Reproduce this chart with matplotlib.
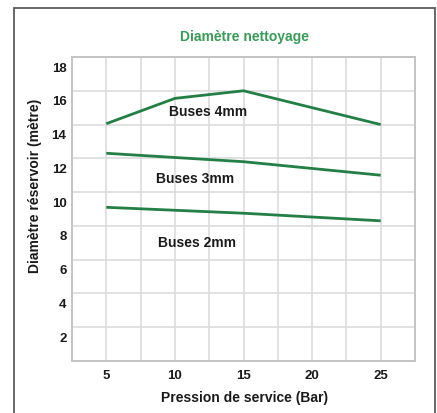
import matplotlib
matplotlib.use("Agg")
import matplotlib.pyplot as plt
import matplotlib.transforms as mtransforms
from matplotlib.patches import Rectangle

# Data
pressure_4mm = [5, 10, 15, 25]
diam_4mm = [14.05, 15.55, 16.0, 14.0]
pressure_3mm = [5, 15, 25]
diam_3mm = [12.3, 11.8, 11.0]
pressure_2mm = [5, 15, 25]
diam_2mm = [9.1, 8.75, 8.3]

series_labels = ["Buses 4mm", "Buses 3mm", "Buses 2mm"]
label_pos = [(12.45, 14.8), (11.45, 10.85), (11.6, 7.05)]

x_ticks = [5, 10, 15, 20, 25]
y_ticks = [2, 4, 6, 8, 10, 12, 14, 16, 18]

title = "Diamètre nettoyage"
xlabel = "Pression de service (Bar)"
ylabel = "Diamètre réservoir (mètre)"

plt.rcParams['font.family'] = ['Liberation Sans', 'DejaVu Sans']
plt.rcParams['font.weight'] = 'bold'

W, H = 437, 414
fig = plt.figure(figsize=(W / 100, H / 100), dpi=100)
fig.patch.set_facecolor("white")

# outer frame
fig.patches.append(Rectangle((14 / W, -0.05), (435 - 14) / W, 1.05 - 9 / H,
                             transform=fig.transFigure, fill=False,
                             edgecolor="#5a5a5a", linewidth=1.3))

ax = fig.add_axes([72 / W, (H - 362) / H, (415 - 72) / W, (362 - 58) / H])
ax.set_xlim(2.5, 27.5)
ax.set_ylim(0, 18)

line_color = "#237f45"
for xs, ys in [(pressure_4mm, diam_4mm), (pressure_3mm, diam_3mm), (pressure_2mm, diam_2mm)]:
    ax.plot(xs, ys, color=line_color, linewidth=2.0, solid_capstyle="butt", zorder=3)

for lab, (lx, ly) in zip(series_labels, label_pos):
    ax.text(lx, ly, lab, ha="center", va="center", fontsize=10,
            fontweight="bold", color="#1a1a1a", zorder=4)

# grid every 2.5 in x, every 2 in y
ax.set_xticks(x_ticks)
ax.set_xticks([2.5 * i for i in range(1, 11)], minor=True)
ax.set_yticks(y_ticks)
ax.grid(True, which="both", axis="x", color="#dcdcdc", linewidth=1.2)
ax.grid(True, which="major", axis="y", color="#dcdcdc", linewidth=1.2)
ax.set_axisbelow(True)
ax.tick_params(which="both", length=0)
ax.tick_params(axis="x", pad=6, labelsize=9.5, colors="#1a1a1a")
ax.tick_params(axis="y", pad=4, labelsize=9.5, colors="#1a1a1a")
for lbl in ax.get_xticklabels() + ax.get_yticklabels():
    lbl.set_fontweight("bold")

# y tick labels sit slightly below their grid lines
offset = mtransforms.ScaledTranslation(0, -9 / 100, fig.dpi_scale_trans)
for lbl in ax.get_yticklabels():
    lbl.set_transform(lbl.get_transform() + offset)

for s in ax.spines.values():
    s.set_color("#c4c4c4")
    s.set_linewidth(1.4)

fig.text(245 / W, 1 - 37 / H, title, ha="center", va="center", fontsize=10,
         fontweight="bold", color="#3a9a58")
fig.text(245 / W, 1 - 398 / H, xlabel, ha="center", va="center", fontsize=10,
         fontweight="bold", color="#1a1a1a")
fig.text(35 / W, 1 - 186 / H, ylabel, ha="center", va="center", fontsize=10,
         fontweight="bold", color="#1a1a1a", rotation=90)

fig.savefig("out.png", dpi=100, facecolor="white")
